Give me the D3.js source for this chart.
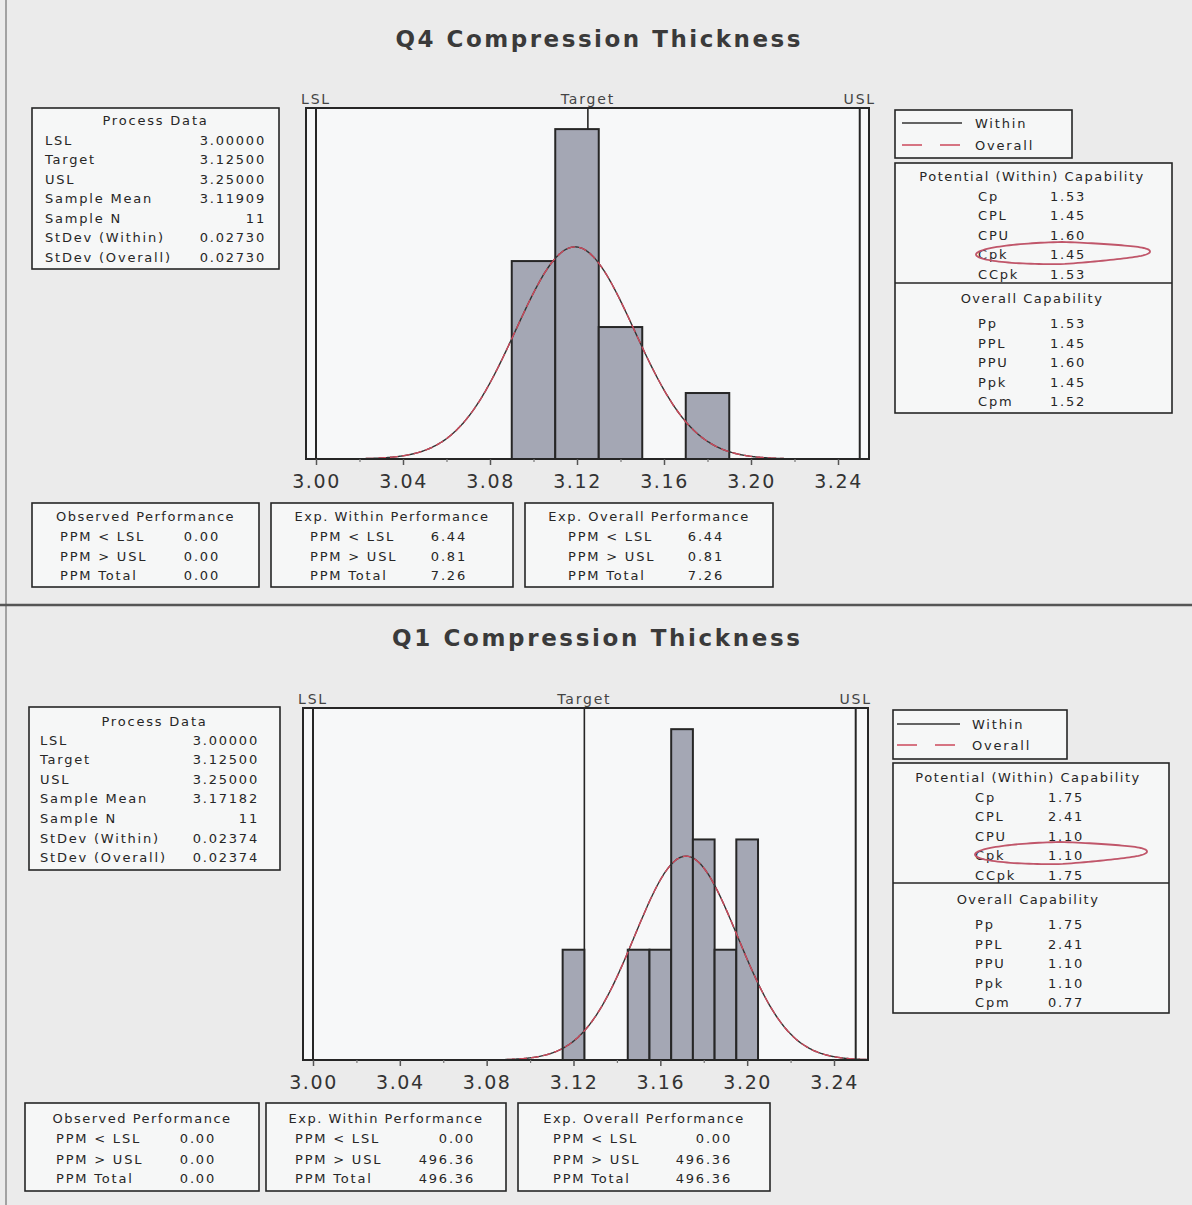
<!DOCTYPE html>
<html>
<head>
<meta charset="utf-8">
<script src="https://cdn.jsdelivr.net/npm/d3@7"></script>
<style>
  html, body { margin: 0; padding: 0; background: #ebebeb; }
  svg { display: block; font-family: "DejaVu Sans", Verdana, sans-serif; }
</style>
</head>
<body>
<svg id="chart" width="1192" height="1205"></svg>
<script>
// ---------- shared labels ----------
const specLabels = ["LSL", "Target", "USL"];
const specValues = [3.000, 3.125, 3.250];
const axisTicks = [3.00, 3.04, 3.08, 3.12, 3.16, 3.20, 3.24];
const minorTicks = [3.02, 3.06, 3.10, 3.14, 3.18, 3.22];
const processLabels = ["LSL", "Target", "USL", "Sample Mean", "Sample N", "StDev (Within)", "StDev (Overall)"];
const potentialLabels = ["Cp", "CPL", "CPU", "Cpk", "CCpk"];
const overallLabels = ["Pp", "PPL", "PPU", "Ppk", "Cpm"];
const ppmLabels = ["PPM < LSL", "PPM > USL", "PPM Total"];
const boxTitles = ["Observed Performance", "Exp. Within Performance", "Exp. Overall Performance"];
const legendLabels = ["Within", "Overall"];

// ---------- Q4 ----------
const q4Title = "Q4 Compression Thickness";
const q4BinMids = [3.10, 3.12, 3.14, 3.18];
const q4Counts = [3, 5, 2, 1];
const q4BinWidth = 0.02;
const q4Mean = 3.11909, q4N = 11, q4SdWithin = 0.02730, q4SdOverall = 0.02730;
const q4ProcessValues = ["3.00000", "3.12500", "3.25000", "3.11909", "11", "0.02730", "0.02730"];
const q4Potential = ["1.53", "1.45", "1.60", "1.45", "1.53"];
const q4Overall = ["1.53", "1.45", "1.60", "1.45", "1.52"];
const q4Observed = ["0.00", "0.00", "0.00"];
const q4ExpWithin = ["6.44", "0.81", "7.26"];
const q4ExpOverall = ["6.44", "0.81", "7.26"];

// ---------- Q1 ----------
const q1Title = "Q1 Compression Thickness";
const q1BinMids = [3.12, 3.15, 3.16, 3.17, 3.18, 3.19, 3.20];
const q1Counts = [1, 1, 1, 3, 2, 1, 2];
const q1BinWidth = 0.01;
const q1Mean = 3.17182, q1N = 11, q1SdWithin = 0.02374, q1SdOverall = 0.02374;
const q1ProcessValues = ["3.00000", "3.12500", "3.25000", "3.17182", "11", "0.02374", "0.02374"];
const q1Potential = ["1.75", "2.41", "1.10", "1.10", "1.75"];
const q1Overall = ["1.75", "2.41", "1.10", "1.10", "0.77"];
const q1Observed = ["0.00", "0.00", "0.00"];
const q1ExpWithin = ["0.00", "496.36", "496.36"];
const q1ExpOverall = ["0.00", "496.36", "496.36"];

const svg = d3.select("#chart");
const INK = "#262626";
const BOX_FILL = "#f6f7f7";
const PLOT_FILL = "#f7f8f9";
const BAR_FILL = "#a4a7b4";
const RED = "#cc4a5c";
const ELLIPSE = "#c0566a";

// page background and panel separators
svg.append("rect").attr("width", 1192).attr("height", 1205).attr("fill", "#ebebeb");
svg.append("line").attr("x1", 6).attr("x2", 6).attr("y1", 0).attr("y2", 1205)
  .attr("stroke", "#8a8a8a").attr("stroke-width", 1.5);
svg.append("line").attr("x1", 0).attr("x2", 1192).attr("y1", 605).attr("y2", 605)
  .attr("stroke", "#555").attr("stroke-width", 2.5);

function txt(g, x, y, s, opts = {}) {
  return g.append("text")
    .attr("x", x).attr("y", y)
    .attr("fill", opts.fill || INK)
    .attr("font-size", opts.size || 13)
    .attr("letter-spacing", opts.ls != null ? opts.ls : 1.8)
    .attr("text-anchor", opts.anchor || "start")
    .text(s);
}

function box(g, x0, y0, x1, y1) {
  g.append("rect").attr("x", x0).attr("y", y0).attr("width", x1 - x0).attr("height", y1 - y0)
    .attr("fill", BOX_FILL).attr("stroke", INK).attr("stroke-width", 1.6);
}

function drawPanel(d, L) {
  const g = svg.append("g");

  // title
  g.append("text").attr("x", L.title.x).attr("y", L.title.y)
    .attr("text-anchor", "middle").attr("font-weight", "bold").attr("font-size", 23)
    .attr("fill", "#3a3a3a").attr("textLength", L.title.w).attr("lengthAdjust", "spacing")
    .text(d.title);

  // scales
  const x = d3.scaleLinear().domain([3.00, 3.24]).range(L.xRange);
  const maxCount = d3.max(d.counts);
  const y = d3.scaleLinear().domain([0, maxCount * 1.064]).range([L.frame.y1, L.frame.y0]);

  // plot area
  g.append("rect").attr("x", L.frame.x0).attr("y", L.frame.y0)
    .attr("width", L.frame.x1 - L.frame.x0).attr("height", L.frame.y1 - L.frame.y0)
    .attr("fill", PLOT_FILL);

  // specification lines and their labels
  specValues.forEach((v, i) => {
    g.append("line").attr("x1", x(v)).attr("x2", x(v))
      .attr("y1", L.frame.y0).attr("y2", L.frame.y1)
      .attr("stroke", INK).attr("stroke-width", i === 1 ? 1.6 : 2);
    txt(g, x(v), L.specY, specLabels[i], { anchor: "middle", size: 14, ls: 1.8, fill: "#444" });
  });

  // histogram bars
  g.selectAll("rect.bar").data(d.binMids).join("rect")
    .attr("class", "bar")
    .attr("x", m => x(m - d.binWidth / 2))
    .attr("width", m => x(m + d.binWidth / 2) - x(m - d.binWidth / 2))
    .attr("y", (m, i) => y(d.counts[i]))
    .attr("height", (m, i) => y(0) - y(d.counts[i]))
    .attr("fill", BAR_FILL).attr("stroke", INK).attr("stroke-width", 2);

  // fitted normal curves (within solid, overall dashed)
  const xs = d3.range(x.invert(L.frame.x0), x.invert(L.frame.x1), 0.0005);
  const dens = (sd) => xs.map(v => [v, d.n * d.binWidth *
    Math.exp(-0.5 * ((v - d.mean) / sd) ** 2) / (sd * Math.sqrt(2 * Math.PI))]);
  const line = d3.line().x(p => x(p[0])).y(p => y(p[1])).curve(d3.curveBasis);
  g.append("path").attr("d", line(dens(d.sdWithin)))
    .attr("fill", "none").attr("stroke", "#333").attr("stroke-width", 1.4);
  g.append("path").attr("d", line(dens(d.sdOverall)))
    .attr("fill", "none").attr("stroke", RED).attr("stroke-width", 1.4)
    .attr("stroke-dasharray", "8,4");

  // plot frame
  g.append("rect").attr("x", L.frame.x0).attr("y", L.frame.y0)
    .attr("width", L.frame.x1 - L.frame.x0).attr("height", L.frame.y1 - L.frame.y0)
    .attr("fill", "none").attr("stroke", INK).attr("stroke-width", 2);

  // x axis
  const ax = g.append("g").attr("transform", `translate(0,${L.frame.y1})`)
    .call(d3.axisBottom(x).tickValues(axisTicks).tickFormat(d3.format(".2f"))
      .tickSize(6).tickPadding(10));
  ax.select(".domain").remove();
  ax.selectAll(".tick line").attr("stroke", "#555").attr("stroke-width", 1.5);
  ax.selectAll(".tick text").attr("font-size", 19).attr("letter-spacing", 1.6)
    .attr("fill", "#333").attr("font-family", "DejaVu Sans, Verdana, sans-serif");
  const mx = g.append("g").attr("transform", `translate(0,${L.frame.y1})`)
    .call(d3.axisBottom(x).tickValues(minorTicks).tickFormat("").tickSize(3));
  mx.select(".domain").remove();
  mx.selectAll(".tick line").attr("stroke", "#777").attr("stroke-width", 1.2);

  // process data box
  const P = L.proc;
  box(g, P.x0, P.y0, P.x1, P.y1);
  txt(g, (P.x0 + P.x1) / 2, P.titleY + 5, "Process Data", { anchor: "middle" });
  processLabels.forEach((lab, i) => {
    const yy = P.rowY0 + i * P.dy + 4.5;
    txt(g, P.labelX, yy, lab);
    txt(g, P.valueX, yy, d.process[i], { anchor: "end" });
  });

  // legend
  const G = L.legend;
  box(g, G.x0, G.y0, G.x1, G.y1);
  g.append("line").attr("x1", G.lx0).attr("x2", G.lx1).attr("y1", G.r1).attr("y2", G.r1)
    .attr("stroke", "#333").attr("stroke-width", 1.3);
  g.append("line").attr("x1", G.lx0).attr("x2", G.lx1).attr("y1", G.r2).attr("y2", G.r2)
    .attr("stroke", RED).attr("stroke-width", 1.3).attr("stroke-dasharray", "20,18");
  txt(g, G.tx, G.r1 + 5, legendLabels[0]);
  txt(g, G.tx, G.r2 + 5, legendLabels[1]);

  // capability box
  const C = L.cap;
  box(g, C.x0, C.y0, C.x1, C.y1);
  g.append("line").attr("x1", C.x0).attr("x2", C.x1).attr("y1", C.div).attr("y2", C.div)
    .attr("stroke", INK).attr("stroke-width", 1.6);
  txt(g, C.cx, C.t1 + 5, "Potential (Within) Capability", { anchor: "middle", ls: 1.5 });
  potentialLabels.forEach((lab, i) => {
    const yy = C.r1 + i * C.dy + 5;
    txt(g, C.lx, yy, lab);
    txt(g, C.vx, yy, d.potential[i]);
  });
  txt(g, C.cx, C.t2 + 5, "Overall Capability", { anchor: "middle", ls: 1.5 });
  overallLabels.forEach((lab, i) => {
    const yy = C.r2 + i * C.dy2 + 5;
    txt(g, C.lx, yy, lab);
    txt(g, C.vx, yy, d.overall[i]);
  });

  // hand-drawn style highlight round the Cpk row
  const E = L.ellipse;
  const ell = d3.range(0, 2 * Math.PI + 0.01, 0.05).map(t => {
    const c = Math.cos(t), s = Math.sin(t);
    const sharp = c > 0 ? 1 - 0.35 * Math.abs(s) * c : 1;
    return [E.cx + E.rx * c, E.cy + E.ry * s * sharp - 1.5 * c];
  });
  g.append("path").attr("d", d3.line()(ell) + "Z")
    .attr("fill", "none").attr("stroke", ELLIPSE).attr("stroke-width", 1.8);

  // performance boxes
  const B = L.boxes;
  const perf = [d.observed, d.expWithin, d.expOverall];
  B.items.forEach((b, k) => {
    box(g, b.x0, B.y0, b.x1, B.y1);
    txt(g, (b.x0 + b.x1) / 2, B.titleY + 5, boxTitles[k], { anchor: "middle", ls: 1.5 });
    ppmLabels.forEach((lab, i) => {
      const yy = B.rows[i] + 5;
      txt(g, b.lx, yy, lab);
      txt(g, b.vx, yy, perf[k][i], { anchor: "end" });
    });
  });
}

drawPanel({
  title: q4Title, binMids: q4BinMids, counts: q4Counts, binWidth: q4BinWidth,
  mean: q4Mean, n: q4N, sdWithin: q4SdWithin, sdOverall: q4SdOverall,
  process: q4ProcessValues, potential: q4Potential, overall: q4Overall,
  observed: q4Observed, expWithin: q4ExpWithin, expOverall: q4ExpOverall
}, {
  title: { x: 598, y: 47, w: 405 },
  frame: { x0: 306, x1: 869, y0: 108, y1: 459 },
  xRange: [316, 838],
  specY: 104,
  proc: { x0: 32, x1: 279, y0: 108, y1: 269, titleY: 120, rowY0: 140, dy: 19.5, labelX: 45, valueX: 266 },
  legend: { x0: 895, x1: 1072, y0: 110, y1: 158, r1: 123, r2: 145, lx0: 902, lx1: 962, tx: 975 },
  cap: { x0: 895, x1: 1172, y0: 163, y1: 413, div: 283, t1: 176, r1: 196, dy: 19.4, t2: 298, r2: 323, dy2: 19.5, cx: 1032, lx: 978, vx: 1050 },
  ellipse: { cx: 1063, cy: 253, rx: 87, ry: 11 },
  boxes: {
    y0: 503, y1: 587, titleY: 516, rows: [536, 556, 575],
    items: [
      { x0: 32, x1: 259, lx: 60, vx: 220 },
      { x0: 271, x1: 513, lx: 310, vx: 467 },
      { x0: 525, x1: 773, lx: 568, vx: 724 }
    ]
  }
});

drawPanel({
  title: q1Title, binMids: q1BinMids, counts: q1Counts, binWidth: q1BinWidth,
  mean: q1Mean, n: q1N, sdWithin: q1SdWithin, sdOverall: q1SdOverall,
  process: q1ProcessValues, potential: q1Potential, overall: q1Overall,
  observed: q1Observed, expWithin: q1ExpWithin, expOverall: q1ExpOverall
}, {
  title: { x: 596, y: 646, w: 408 },
  frame: { x0: 303, x1: 868, y0: 708, y1: 1060 },
  xRange: [313, 834],
  specY: 704,
  proc: { x0: 29, x1: 280, y0: 707, y1: 870, titleY: 721, rowY0: 740, dy: 19.6, labelX: 40, valueX: 259 },
  legend: { x0: 893, x1: 1067, y0: 710, y1: 759, r1: 724, r2: 745, lx0: 897, lx1: 960, tx: 972 },
  cap: { x0: 893, x1: 1169, y0: 763, y1: 1013, div: 883, t1: 777, r1: 797, dy: 19.4, t2: 899, r2: 924, dy2: 19.5, cx: 1028, lx: 975, vx: 1048 },
  ellipse: { cx: 1061, cy: 853, rx: 86, ry: 11 },
  boxes: {
    y0: 1103, y1: 1191, titleY: 1118, rows: [1138, 1159, 1178],
    items: [
      { x0: 25, x1: 259, lx: 56, vx: 216 },
      { x0: 266, x1: 506, lx: 295, vx: 475 },
      { x0: 518, x1: 770, lx: 553, vx: 732 }
    ]
  }
});
</script>
</body>
</html>
